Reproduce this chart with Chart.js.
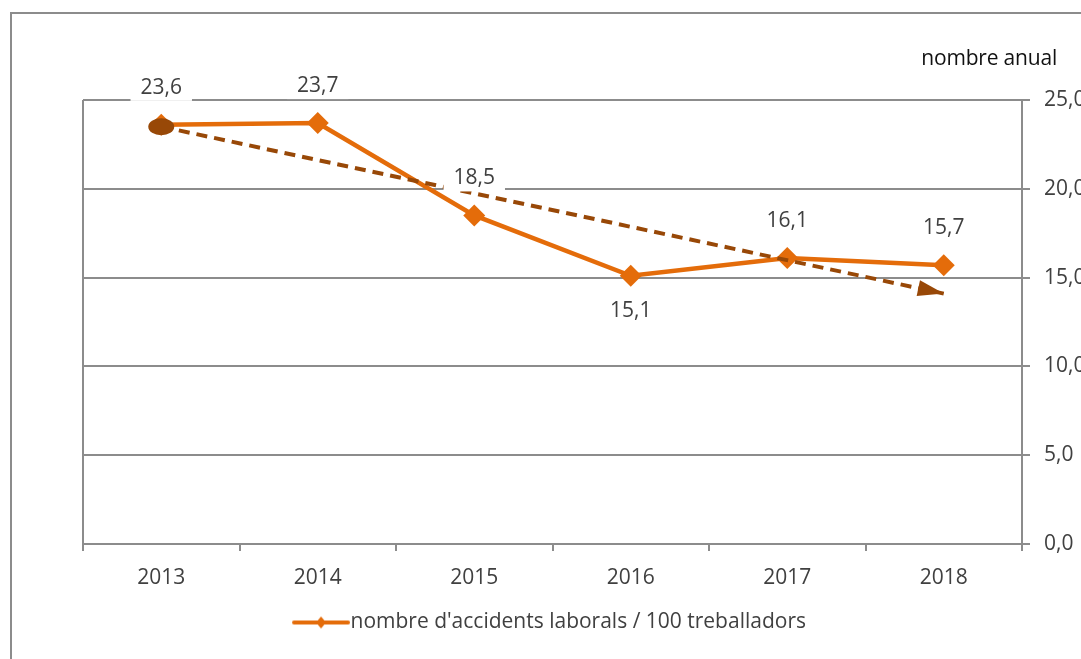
<!DOCTYPE html>
<html>
<head>
<meta charset="utf-8">
<script src="https://cdn.jsdelivr.net/npm/chart.js@4/dist/chart.umd.min.js"></script>
<style>
  html, body { margin: 0; padding: 0; background: #fff; overflow: hidden; }
  #frame { position: absolute; left: 10px; top: 12px; width: 1200px; height: 700px; border: 2px solid #8c8c8c; }
  #unit { position: absolute; right: 24px; top: 43px; font: 21px "Open Sans", sans-serif; color: #111; letter-spacing: -0.2px; }
  #chart { position: absolute; left: 0; top: 0; }
</style>
</head>
<body>
<div id="frame"></div>
<canvas id="chart" width="1090" height="659"></canvas>
<div id="unit">nombre anual</div>
<script>
// dades
const years = ['2013', '2014', '2015', '2016', '2017', '2018'];
const accidents = [23.6, 23.7, 18.5, 15.1, 16.1, 15.7];
const trend = [23.5, null, null, null, null, 14.1];
const yTicks = ['0,0', '5,0', '10,0', '15,0', '20,0', '25,0'];
const seriesLabel = "nombre d'accidents laborals / 100 treballadors";

const orange = '#E46C0A';
const brown = '#984807';
const gray = '#8c8c8c';
const txt = '#404040';
const font = { family: '"Open Sans", sans-serif', size: 21 };

// icona de la llegenda: línia amb rombe (desplaçada cap al text)
const legendIcon = document.createElement('canvas');
legendIcon.width = 76; legendIcon.height = 14;
(function() {
    const c = legendIcon.getContext('2d');
    c.strokeStyle = orange; c.lineWidth = 4; c.lineCap = 'round';
    c.beginPath(); c.moveTo(20, 7); c.lineTo(74, 7); c.stroke();
    c.fillStyle = orange;
    c.beginPath(); c.moveTo(47, 1); c.lineTo(52, 7); c.lineTo(47, 13); c.lineTo(42, 7); c.closePath(); c.fill();
})();

// etiquetes de valor amb fons blanc + marques de la tendència
const extras = {
    id: 'extras',
    afterDatasetsDraw(chart) {
        const ctx = chart.ctx;
        ctx.save();

        // tendència: el·lipse a l'inici i fletxa al final
        const tr = chart.getDatasetMeta(0).data;
        const a = tr[0], b = tr[tr.length - 1];
        ctx.fillStyle = brown;
        ctx.beginPath();
        ctx.ellipse(a.x, a.y, 13, 8.5, 0, 0, Math.PI * 2);
        ctx.fill();
        const ang = Math.atan2(b.y - a.y, b.x - a.x);
        ctx.translate(b.x, b.y);
        ctx.rotate(ang);
        ctx.beginPath();
        ctx.moveTo(0, 0);
        ctx.lineTo(-26, -8);
        ctx.lineTo(-26, 8);
        ctx.closePath();
        ctx.fill();
        ctx.setTransform(1, 0, 0, 1, 0, 0);

        const meta = chart.getDatasetMeta(1);
        ctx.font = font.size + 'px ' + font.family;
        ctx.textAlign = 'center';
        ctx.textBaseline = 'middle';
        meta.data.forEach((pt, i) => {
            const text = accidents[i].toFixed(1).replace('.', ',');
            const below = i === 3;
            const y = below ? pt.y + 35 : pt.y - 37;
            const w = ctx.measureText(text).width + 20;
            ctx.fillStyle = '#fff';
            ctx.fillRect(pt.x - w / 2, y - 13, w, 26);
            ctx.fillStyle = txt;
            ctx.fillText(text, pt.x, y);
        });
        ctx.restore();
    }
};

new Chart(document.getElementById('chart'), {
    type: 'line',
    data: {
        labels: years,
        datasets: [
            {
                label: 'tendència',
                data: trend,
                yAxisID: 'y',
                spanGaps: true,
                order: 0,
                borderColor: brown,
                borderWidth: 4,
                borderDash: [11, 7],
                pointRadius: 0
            },
            {
                label: seriesLabel,
                data: accidents,
                yAxisID: 'y',
                order: 1,
                borderColor: orange,
                backgroundColor: orange,
                borderWidth: 4.5,
                pointStyle: 'rectRot',
                pointRadius: 11,
                pointBorderWidth: 0,
                pointBackgroundColor: orange,
                tension: 0
            }
        ]
    },
    options: {
        responsive: false,
        animation: false,
        layout: { padding: { left: 0, top: 100, right: 0, bottom: 16 } },
        plugins: {
            tooltip: { enabled: false },
            legend: {
                position: 'bottom',
                labels: {
                    usePointStyle: true,
                    pointStyle: legendIcon,
                    pointStyleWidth: 56,
                    color: txt,
                    font: font,
                    padding: 14,
                    filter: item => item.datasetIndex === 1
                }
            }
        },
        scales: {
            x: {
                offset: true,
                grid: {
                    offset: true,
                    drawOnChartArea: true,
                    color: c => c.index === 0 ? gray : 'rgba(0,0,0,0)',
                    tickColor: gray,
                    lineWidth: 2,
                    tickLength: 7
                },
                border: { color: gray, width: 2 },
                ticks: { color: txt, font: font, padding: 14, maxRotation: 0 },
                afterFit: s => { s.height = 54; }
            },
            yLeft: {
                position: 'left',
                display: true,
                grid: { display: false },
                border: { display: false },
                ticks: { display: false },
                afterFit: s => { s.width = 83; }
            },
            y: {
                position: 'right',
                min: 0,
                max: 25,
                grid: { color: gray, lineWidth: 2, tickLength: 8 },
                border: { color: gray, width: 2 },
                ticks: {
                    stepSize: 5,
                    color: txt,
                    font: font,
                    padding: 14,
                    callback: (v, i) => yTicks[i]
                },
                afterFit: s => { s.width = 68; }
            }
        }
    },
    plugins: [extras]
});
</script>
</body>
</html>
